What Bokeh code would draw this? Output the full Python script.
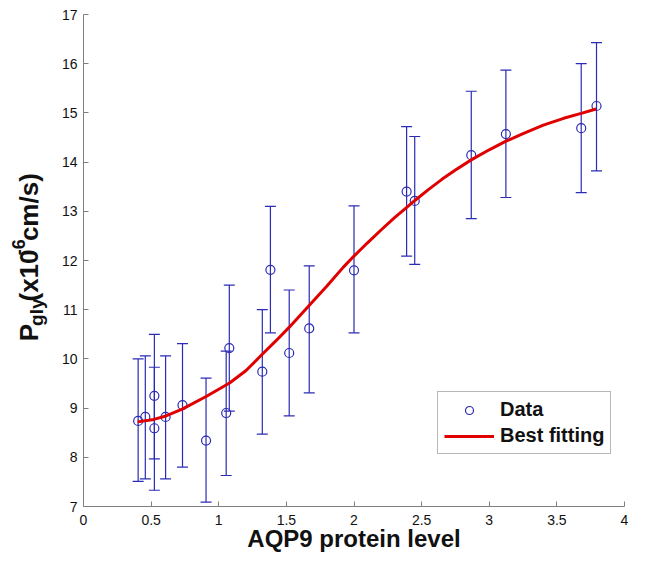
import math
from bokeh.plotting import figure
from bokeh.layouts import row
from bokeh.models import ColumnDataSource, Whisker, TeeHead, FixedTicker
from bokeh.core.properties import value
from bokeh.embed import file_html
from bokeh.resources import INLINE

# ---- data ----
aqp9 = [0.404, 0.457, 0.524, 0.524, 0.607, 0.732, 0.906, 1.055, 1.078, 1.322,
        1.382, 1.521, 1.669, 2.000, 2.389, 2.449, 2.867, 3.123, 3.680, 3.793]
pgly = [8.74, 8.82, 9.25, 8.59, 8.82, 9.06, 8.34, 8.90, 10.22, 9.74,
        11.81, 10.12, 10.62, 11.80, 13.40, 13.21, 14.14, 14.57, 14.69, 15.14]
pgly_upper = [10.00, 10.06, 10.50, 9.83, 10.06, 10.31, 9.61, 10.16, 11.50, 11.00,
              13.10, 11.40, 11.89, 13.11, 14.72, 14.52, 15.44, 15.87, 16.00, 16.43]
pgly_lower = [7.51, 7.56, 7.97, 7.33, 7.56, 7.80, 7.09, 7.63, 8.94, 8.47,
              10.53, 8.84, 9.31, 10.53, 12.09, 11.92, 12.85, 13.28, 13.38, 13.82]

fit_x = [0.40, 0.52, 0.61, 0.73, 0.91, 1.08, 1.20, 1.32, 1.42, 1.52, 1.67, 1.80,
         1.92, 2.00, 2.10, 2.20, 2.30, 2.39, 2.45, 2.55, 2.65, 2.75, 2.87, 3.00,
         3.12, 3.25, 3.40, 3.55, 3.68, 3.79]
fit_y = [8.72, 8.77, 8.84, 8.98, 9.24, 9.51, 9.76, 10.09, 10.36, 10.64, 11.09, 11.48,
         11.86, 12.09, 12.36, 12.62, 12.87, 13.08, 13.22, 13.44, 13.65, 13.84, 14.05, 14.25,
         14.42, 14.58, 14.75, 14.89, 14.99, 15.08]

x_ticks = [0, 0.5, 1, 1.5, 2, 2.5, 3, 3.5, 4]
x_tick_labels = ["0", "0.5", "1", "1.5", "2", "2.5", "3", "3.5", "4"]
y_ticks = [7, 8, 9, 10, 11, 12, 13, 14, 15, 16, 17]

x_title = "AQP9 protein level"
y_title_pieces = ["P", "gly", "(x10", "-6", "cm/s)"]
legend_data = "Data"
legend_fit = "Best fitting"

BLUE = "#2b2bb4"
RED = "#e00000"
AXIS_GRAY = "#808080"
TXT = "#111111"
FONT = "Liberation Sans"
H = 554
SIDE_W = 58

p = figure(width=630 - SIDE_W, height=H, x_range=(0, 4), y_range=(7, 17),
           output_backend="svg", toolbar_location=None,
           min_border_left=80 - SIDE_W, min_border_right=6, min_border_top=14,
           min_border_bottom=48)
p.xgrid.visible = False
p.ygrid.visible = False
p.outline_line_color = None

p.xaxis.ticker = FixedTicker(ticks=x_ticks)
p.xaxis.major_label_overrides = {float(t): l for t, l in zip(x_ticks, x_tick_labels)}
p.yaxis.ticker = FixedTicker(ticks=y_ticks)
for ax in (p.xaxis[0], p.yaxis[0]):
    ax.axis_line_color = AXIS_GRAY
    ax.major_tick_line_color = AXIS_GRAY
    ax.major_tick_in = 5
    ax.major_tick_out = 0
    ax.minor_tick_line_color = None
    ax.major_label_text_font = FONT
    ax.major_label_text_font_size = "14px"
    ax.major_label_text_color = TXT
p.yaxis.major_label_standoff = 6
p.xaxis.major_label_standoff = 8
p.xaxis.axis_label = x_title
p.xaxis.axis_label_text_font = FONT
p.xaxis.axis_label_text_font_size = "24px"
p.xaxis.axis_label_text_font_style = "bold"
p.xaxis.axis_label_text_color = TXT
p.xaxis.axis_label_standoff = -3

src = ColumnDataSource(dict(x=aqp9, y=pgly, upper=pgly_upper, lower=pgly_lower))
wh = Whisker(source=src, base="x", upper="upper", lower="lower",
             line_color=BLUE, line_width=1.2,
             upper_head=TeeHead(size=11, line_color=BLUE, line_width=1.2),
             lower_head=TeeHead(size=11, line_color=BLUE, line_width=1.2))
p.add_layout(wh)

p.scatter("x", "y", source=src, marker="circle", size=9, fill_color=None,
          line_color=BLUE, line_width=1.2, legend_label=legend_data)
p.line(fit_x, fit_y, line_color=RED, line_width=3, legend_label=legend_fit)

leg = p.legend[0]
leg.location = (354, 52)
leg.label_text_font = FONT
leg.label_text_font_size = "20px"
leg.label_text_font_style = "bold"
leg.label_text_color = TXT
leg.glyph_width = 50
leg.glyph_height = 20
leg.label_height = 20
leg.label_standoff = 6
leg.padding = 6
leg.spacing = 3
leg.margin = 0
leg.border_line_color = "#707070"
leg.border_line_width = 1
leg.background_fill_alpha = 1.0

# ---- y-axis title (with subscript / superscript) in a narrow side panel ----
side = figure(width=SIDE_W, height=H, x_range=(0, SIDE_W), y_range=(0, H),
              output_backend="svg", toolbar_location=None, min_border=0,
              x_axis_location=None, y_axis_location=None)
side.outline_line_color = None
side.title.visible = False
for g in side.grid:
    g.visible = False

W = {"P": .667, "g": .611, "l": .278, "y": .556, "(": .333, "x": .556, "1": .556,
     "0": .556, "-": .333, "6": .556, "c": .556, "m": .889, "/": .278, "s": .556,
     ")": .333}
sizes = [26, 19, 26, 18, 26]
shifts = [0, 8, 0, -10, 0]
base_x = 28.0
ypos = 186.0
for txt, size, shift in zip(y_title_pieces, sizes, shifts):
    side.text(x=[base_x + shift], y=[ypos], text=[txt], angle=math.pi / 2,
              text_align="left", text_baseline="alphabetic",
              text_font=value(FONT), text_font_size=value(f"{size}px"),
              text_font_style="bold", text_color=TXT)
    ypos += sum(W[c] for c in txt) * size

layout = row(side, p)
open("out.html", "w").write(file_html(layout, INLINE))
